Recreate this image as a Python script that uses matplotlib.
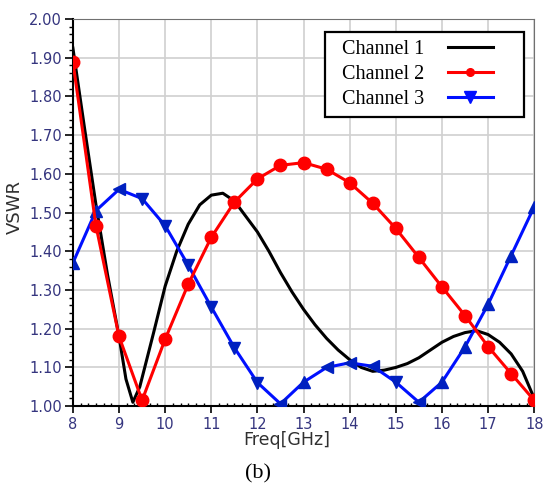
"""
VSWR de tres canales frente a la frecuencia.
"""
import numpy as np
import matplotlib
matplotlib.use("Agg")
import matplotlib.pyplot as plt
from matplotlib.lines import Line2D
from matplotlib.patches import Rectangle
from matplotlib.ticker import MultipleLocator, AutoMinorLocator

# Channel 1: curva continua (sin marcadores)
freq_ch1 = [8.0, 8.25, 8.5, 8.75, 9.0, 9.15, 9.3, 9.45, 9.6, 9.75, 10.0, 10.25,
            10.5, 10.75, 11.0, 11.25, 11.5, 11.75, 12.0, 12.25, 12.5, 12.75,
            13.0, 13.25, 13.5, 13.75, 14.0, 14.25, 14.5, 14.75, 15.0, 15.25,
            15.5, 15.75, 16.0, 16.25, 16.5, 16.75, 17.0, 17.25, 17.5, 17.75, 18.0]
vswr_ch1 = [1.925, 1.72, 1.52, 1.34, 1.18, 1.07, 1.01, 1.05, 1.12, 1.19, 1.31, 1.40,
            1.47, 1.52, 1.545, 1.55, 1.53, 1.49, 1.45, 1.40, 1.345, 1.295,
            1.25, 1.21, 1.175, 1.145, 1.12, 1.10, 1.09, 1.093, 1.10, 1.11,
            1.125, 1.145, 1.165, 1.18, 1.19, 1.195, 1.185, 1.165, 1.135, 1.09, 1.02]

# Channel 2 y Channel 3: un punto cada 0.5 GHz
freq_pts = [8.0, 8.5, 9.0, 9.5, 10.0, 10.5, 11.0, 11.5, 12.0, 12.5, 13.0,
            13.5, 14.0, 14.5, 15.0, 15.5, 16.0, 16.5, 17.0, 17.5, 18.0]
vswr_ch2 = [1.89, 1.466, 1.18, 1.015, 1.173, 1.315, 1.436, 1.527, 1.587, 1.622, 1.629,
            1.612, 1.577, 1.524, 1.459, 1.384, 1.308, 1.234, 1.154, 1.084, 1.015]
vswr_ch3 = [1.37, 1.505, 1.56, 1.536, 1.466, 1.364, 1.256, 1.151, 1.061, 1.006, 1.062,
            1.10, 1.112, 1.103, 1.062, 1.01, 1.062, 1.153, 1.263, 1.389, 1.515]

labels = ["Channel 1", "Channel 2", "Channel 3"]
x_ticks = list(range(8, 19))
y_ticks = [1.00, 1.10, 1.20, 1.30, 1.40, 1.50, 1.60, 1.70, 1.80, 1.90, 2.00]

tick_color = "#35357f"
azul = "#0010ff"

fig = plt.figure(figsize=(5.44, 4.87), dpi=100)
ax = fig.add_axes([0.134, 0.166, 0.848, 0.795])

ax.plot(freq_ch1, vswr_ch1, color="black", lw=2.2, zorder=3)

# canal 3: linea y triangulos orientados segun la pendiente
ax.plot(freq_pts, vswr_ch3, color=azul, lw=2.2, zorder=4)
x3 = np.array(freq_pts)
y3 = np.array(vswr_ch3)
slope = np.gradient(y3 / 0.1 * 38.6, x3 * 46.1)
for xi, yi, s in zip(x3, y3, slope):
    ang = np.degrees(np.arctan(s))
    if ang > 25:
        m = "^"
    elif ang < -25:
        m = "v"
    else:
        m = "<"
    ax.plot(xi, yi, marker=m, color="#0020c0", markersize=8, zorder=4)

ax.plot(freq_pts, vswr_ch2, color="#ff0000", lw=2.2, marker="o",
        markersize=9, zorder=5)

ax.set_xlim(8, 18)
ax.set_ylim(1.0, 2.0)
ax.set_xticks(x_ticks)
ax.set_yticks(y_ticks)
ax.set_xticklabels([str(t) for t in x_ticks])
ax.set_yticklabels([f"{t:.2f}" for t in y_ticks])
ax.xaxis.set_minor_locator(AutoMinorLocator(6))
ax.yaxis.set_minor_locator(MultipleLocator(0.02))

ax.tick_params(axis="both", which="major", labelsize=10.5, labelcolor=tick_color,
               color="black", width=1.2)
ax.tick_params(axis="x", which="major", direction="out", length=5, pad=3)
ax.tick_params(axis="x", which="minor", direction="in", length=2.5, width=1.0)
ax.tick_params(axis="y", which="major", direction="out", length=6, pad=2)
ax.tick_params(axis="y", which="minor", direction="out", length=3, width=1.0)
for lab in ax.get_xticklabels() + ax.get_yticklabels():
    lab.set_family("DejaVu Sans")

ax.grid(True, which="major", color="#d0d0d0", lw=1.2)
ax.set_axisbelow(True)
ax.spines["left"].set_linewidth(1.5)
ax.spines["bottom"].set_linewidth(1.5)
ax.spines["top"].set_color("#707070")
ax.spines["right"].set_color("#707070")

# marco de la leyenda dibujado aparte
ax.add_patch(Rectangle((0.5466, 0.7468), 0.4317, 0.2196, transform=ax.transAxes,
                       facecolor="white", edgecolor="black", lw=1.6,
                       zorder=6, clip_on=False))
handles = [
    Line2D([], [], color="black", lw=2.2),
    Line2D([], [], color="#ff0000", lw=2.2, marker="o", markersize=5.5),
    Line2D([], [], color=azul, lw=2.2, marker="v", markersize=8,
           markerfacecolor=azul),
]
leg = ax.legend(handles, labels, loc="upper left", bbox_to_anchor=(0.583, 0.945),
                markerfirst=False, frameon=False, handlelength=2.2,
                borderpad=0, borderaxespad=0, labelspacing=0.28,
                handletextpad=1.2,
                prop={"family": "Liberation Serif", "size": 14.5})
leg.set_zorder(7)

fig.text(0.028, 0.575, "VSWR", rotation=90, ha="center", va="center",
         fontsize=13, family="DejaVu Sans", color="#303030")
fig.text(0.528, 0.097, "Freq[GHz]", ha="center", va="center",
         fontsize=12.5, family="DejaVu Sans", color="#303030")
fig.text(0.475, 0.028, "(b)", ha="center", va="center",
         fontsize=16, family="Liberation Serif", color="black")

fig.savefig("out.png", dpi=100)
plt.close(fig)
